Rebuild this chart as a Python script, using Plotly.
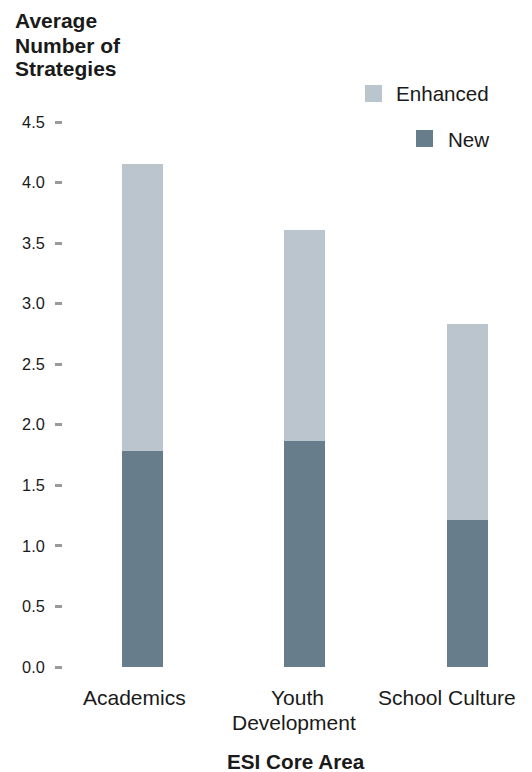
import plotly.graph_objects as go

categories = ["Academics", "Youth<br>Development", "School Culture"]
new_vals = [1.78, 1.87, 1.21]
enhanced_vals = [2.37, 1.74, 1.62]
y_ticks = [0.0, 0.5, 1.0, 1.5, 2.0, 2.5, 3.0, 3.5, 4.0, 4.5]
y_tick_labels = ["0.0", "0.5", "1.0", "1.5", "2.0", "2.5", "3.0", "3.5", "4.0", "4.5"]

C_NEW = "#687D8C"
C_ENH = "#BAC5CE"
FONT = "Liberation Sans, Arial, sans-serif"
TXT = "#1a1a1a"

W, H = 532, 772
ML, MR, MT, MB = 63, 0, 122, 105
PW, PH = W - ML - MR, H - MT - MB


def px_x(p):
    return (p - ML) / PW


def px_y(p):
    return (H - MB - p) / PH


fig = go.Figure()
fig.add_trace(go.Bar(x=[0, 1, 2], y=new_vals, name="New", marker_color=C_NEW,
                     marker_line_width=0, width=0.253))
fig.add_trace(go.Bar(x=[0, 1, 2], y=enhanced_vals, name="Enhanced", marker_color=C_ENH,
                     marker_line_width=0, width=0.253))

fig.update_layout(
    barmode="stack",
    width=W, height=H,
    margin=dict(l=ML, r=MR, t=MT, b=MB, pad=0),
    paper_bgcolor="white", plot_bgcolor="white",
    showlegend=False,
    font=dict(family=FONT, color=TXT),
)
fig.update_xaxes(
    range=[-0.49, 2.40],
    tickmode="array", tickvals=[0, 1, 2], ticktext=["", "", ""],
    ticks="", showline=False, showgrid=False, zeroline=False,
)
fig.update_yaxes(
    range=[0, 4.5],
    tickmode="array", tickvals=y_ticks, ticktext=y_tick_labels,
    tickfont=dict(size=16.3, family=FONT, color=TXT),
    ticks="outside", ticklen=7, tickwidth=3, tickcolor="#9a9a9a",
    showline=False, showgrid=False, zeroline=False,
    ticklabelstandoff=7,
)

# category labels (one annotation per text line, placed at the category position)
line_shifts = [[-8.5], [-7.5, -11], [-20]]
for i, cat in enumerate(categories):
    for j, line in enumerate(cat.split("<br>")):
        fig.add_annotation(text=line, xref="x", yref="paper", x=i, y=px_y(697.7 + 25 * j),
                           xshift=line_shifts[i][j], xanchor="center", yanchor="middle",
                           showarrow=False,
                           font=dict(size=21, family=FONT, color=TXT))

# y-axis title lines
for txt, mid in [("Average", 20.4), ("Number of", 45.4), ("Strategies", 68.7)]:
    fig.add_annotation(text=txt, xref="paper", yref="paper", x=px_x(13), y=px_y(mid),
                       xanchor="left", yanchor="middle", showarrow=False,
                       font=dict(size=21, family=FONT, color=TXT, weight="bold"))

# x-axis title
fig.add_annotation(text="ESI Core Area", xref="paper", yref="paper", x=px_x(296), y=px_y(761),
                   xanchor="center", yanchor="middle", showarrow=False,
                   font=dict(size=20.7, family=FONT, color=TXT, weight="bold"))

# legend
for label, color, sx0, sy0, tx, ty in [
    ("Enhanced", C_ENH, 365, 85, 394, 93.5),
    ("New", C_NEW, 416, 130, 446, 139.5),
]:
    fig.add_shape(type="rect", xref="paper", yref="paper",
                  x0=px_x(sx0), x1=px_x(sx0 + 17), y0=px_y(sy0), y1=px_y(sy0 + 17),
                  fillcolor=color, line_width=0)
    fig.add_annotation(text=label, xref="paper", yref="paper", x=px_x(tx), y=px_y(ty),
                       xanchor="left", yanchor="middle", showarrow=False,
                       font=dict(size=20.6, family=FONT, color=TXT))

fig.write_html("out.html")
